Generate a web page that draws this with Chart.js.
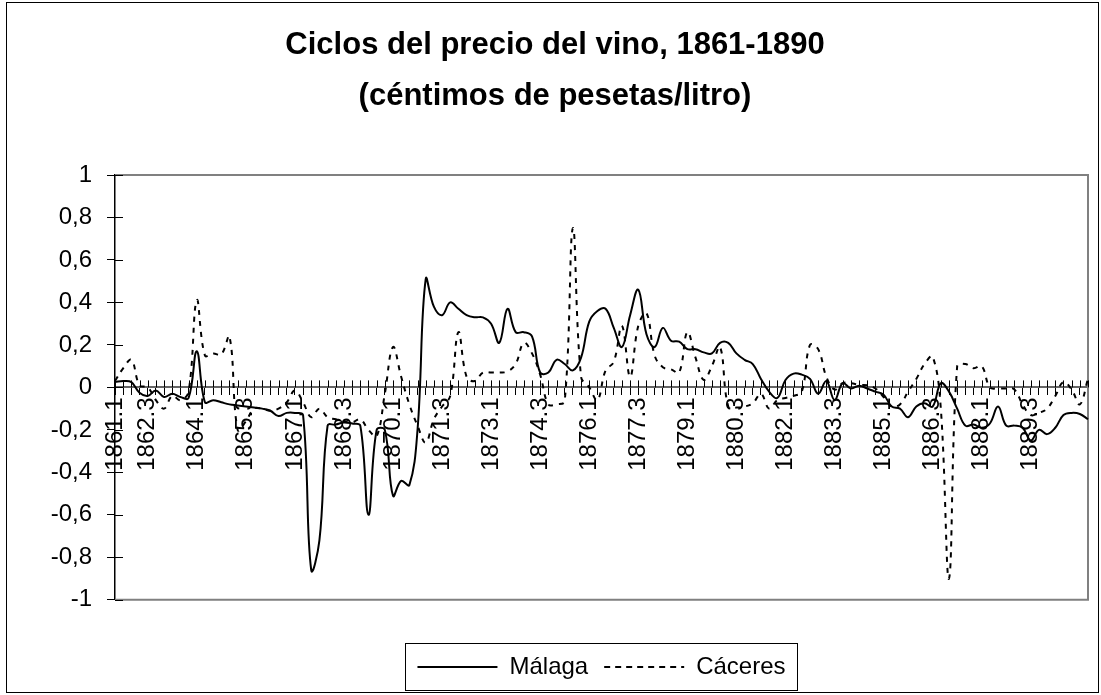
<!DOCTYPE html>
<html>
<head>
<meta charset="utf-8">
<script src="https://cdn.jsdelivr.net/npm/chart.js@4.4.0/dist/chart.umd.min.js"></script>
<style>
html, body { margin: 0; padding: 0; background: #fff; }
</style>
</head>
<body>
<canvas id="myChart" width="1101" height="695"></canvas>
<script>
// quarterly categories (year.quarter); first obs 1861.1, then a run from 1861.4 on
var categories = ["1861.1"];
for (var q = 1861 * 4 + 3; categories.length < 120; q++) {
    categories.push(Math.floor(q / 4) + "." + (q % 4 + 1));
}

var malaga = [
    0.025, 0.03, 0.025, -0.025, -0.04, -0.015, -0.045, -0.03, -0.045, -0.05,
    0.17, -0.07, -0.06, -0.07, -0.08, -0.085, -0.09, -0.095, -0.1, -0.11,
    -0.135, -0.12, -0.12, -0.13, -0.86, -0.72, -0.18, -0.175, -0.165, -0.17,
    -0.18, -0.6, -0.2, -0.2, -0.51, -0.44, -0.46, -0.2, 0.51, 0.38,
    0.34, 0.40, 0.37, 0.34, 0.33, 0.33, 0.30, 0.21, 0.37, 0.26,
    0.26, 0.24, 0.07, 0.07, 0.13, 0.11, 0.08, 0.14, 0.31, 0.36,
    0.37, 0.28, 0.19, 0.34, 0.46, 0.25, 0.19, 0.28, 0.22, 0.215,
    0.18, 0.18, 0.165, 0.16, 0.21, 0.21, 0.16, 0.13, 0.11, 0.04,
    -0.02, -0.05, 0.035, 0.065, 0.06, 0.04, -0.03, 0.03, -0.06, 0.02,
    -0.005, 0.008, -0.005, -0.02, -0.035, -0.09, -0.1, -0.14, -0.09, -0.075,
    -0.09, 0.02, -0.02, -0.1, -0.18, -0.175, -0.19, -0.17, -0.09, -0.18,
    -0.18, -0.19, -0.25, -0.2, -0.22, -0.19, -0.13, -0.12, -0.125, -0.15
];

var caceres = [
    0.03, 0.09, 0.13, 0.01, 0.0, -0.06, -0.1, -0.04, -0.06, -0.02,
    0.41, 0.15, 0.16, 0.155, 0.24, -0.2, -0.16, -0.1, -0.1, -0.11,
    -0.1, -0.07, -0.015, -0.07, -0.14, -0.1, -0.14, -0.15, -0.16, -0.165,
    -0.15, -0.2, -0.23, -0.03, 0.19, 0.05, -0.08, -0.18, -0.26, -0.15,
    -0.09, -0.04, 0.26, 0.05, 0.03, 0.07, 0.07, 0.07, 0.075, 0.11,
    0.21, 0.16, 0.06, -0.08, -0.08, -0.065, 0.75, 0.05, 0.0, -0.06,
    0.08, 0.12, 0.29, 0.05, 0.29, 0.35, 0.15, 0.095, 0.085, 0.07,
    0.26, 0.14, 0.035, 0.1, 0.19, -0.09, -0.095, -0.09, -0.075, -0.03,
    -0.1, -0.06, -0.05, -0.04, -0.02, 0.2, 0.18, 0.05, -0.01, 0.02,
    0.02, 0.012, 0.01, -0.005, -0.045, -0.09, -0.08, -0.02, 0.04, 0.11,
    0.145, -0.1, -0.9, 0.1, 0.11, 0.09, 0.1, 0.0, -0.005, -0.005,
    -0.01, -0.08, -0.13, -0.12, -0.1, -0.04, 0.025, -0.01, -0.08, 0.04
];

var titleLines = ["Ciclos del precio del vino, 1861-1890", "(céntimos de pesetas/litro)"];
var fontFam = "'Liberation Sans', Arial, sans-serif";

// cross tick marks, plot border, legend box and outer frame like the Excel original
var excelLook = {
    id: "excelLook",
    beforeDatasetsDraw: function (chart) {
        var ctx = chart.ctx;
        var a = chart.chartArea;
        var xs = chart.scales.x;
        var ys = chart.scales.y;
        var y0 = ys.getPixelForValue(0);
        ctx.save();
        ctx.strokeStyle = "#808080";
        ctx.lineWidth = 2;
        ctx.beginPath();
        ctx.moveTo(a.left, a.top);
        ctx.lineTo(a.right, a.top);
        ctx.lineTo(a.right, a.bottom);
        ctx.lineTo(a.left, a.bottom);
        ctx.stroke();

        ctx.strokeStyle = "#000";
        ctx.lineWidth = 1;
        ctx.beginPath();
        xs.ticks.forEach(function (t, i) {
            var px = Math.round(xs.getPixelForTick(i)) + 0.5;
            ctx.moveTo(px, y0 - 7);
            ctx.lineTo(px, y0);
        });
        ys.ticks.forEach(function (t, i) {
            var py = Math.round(ys.getPixelForTick(i)) + 0.5;
            ctx.moveTo(a.left, py);
            ctx.lineTo(a.left + 8, py);
        });
        ctx.stroke();
        ctx.restore();
    },
    afterDraw: function (chart) {
        var ctx = chart.ctx;
        var hb = chart.legend.legendHitBoxes;
        ctx.save();
        ctx.strokeStyle = "#000";
        ctx.lineWidth = 1;
        if (hb && hb.length) {
            var l = hb[0].left, r = hb[0].left + hb[0].width;
            hb.forEach(function (h) {
                l = Math.min(l, h.left);
                r = Math.max(r, h.left + h.width);
            });
            var t = hb[0].top - 12, b = hb[0].top + hb[0].height + 11;
            ctx.strokeRect(Math.round(l - 12) + 0.5, Math.round(t) + 0.5, Math.round(r - l + 24), Math.round(b - t));
        }
        ctx.strokeRect(6.5, 2.5, 1092, 690);
        ctx.restore();
    }
};

var ctx = document.getElementById("myChart").getContext("2d");
var config = {
    type: "line",
    data: {
        labels: categories,
        datasets: [{
            label: "Málaga",
            data: malaga,
            borderColor: "#000",
            borderWidth: 2,
            pointRadius: 0,
            tension: 0.4,
            fill: false
        }, {
            label: "Cáceres",
            data: caceres,
            borderColor: "#000",
            borderWidth: 2,
            borderDash: [5, 6],
            pointRadius: 0,
            tension: 0.4,
            fill: false
        }]
    },
    options: {
        responsive: false,
        animation: false,
        layout: { autoPadding: false, padding: { left: 22, right: 13, top: 0, bottom: 6 } },
        plugins: {
            title: {
                display: true,
                text: titleLines,
                color: "#000",
                font: { family: fontFam, size: 31, weight: "bold", lineHeight: 1.65 },
                padding: { top: 19.5, bottom: 53.2 }
            },
            legend: {
                position: "bottom",
                fullSize: false,
                labels: {
                    color: "#000",
                    font: { family: fontFam, size: 24 },
                    boxWidth: 80,
                    boxHeight: 0,
                    padding: 16
                },
                title: { display: true, text: " ", font: { size: 1 }, padding: { top: 38, bottom: 0 } }
            },
            tooltip: { enabled: false }
        },
        scales: {
            x: {
                type: "category",
                position: { y: 0 },
                offset: false,
                grid: { display: true, drawOnChartArea: false, drawTicks: true, tickLength: 7, color: "#000", lineWidth: 1 },
                border: { display: true, color: "#666", width: 2 },
                ticks: {
                    autoSkip: false,
                    maxRotation: 90,
                    minRotation: 90,
                    padding: 3,
                    color: "#000",
                    font: { family: fontFam, size: 24 },
                    callback: function (v, i) {
                        if (i === 0 || (i % 6 === 4 && i <= 112)) return categories[i];
                        return "";
                    }
                },
                afterFit: function (scale) {
                    scale.paddingLeft = 0;
                    scale.paddingRight = 0;
                }
            },
            y: {
                min: -1,
                max: 1,
                grid: { drawOnChartArea: false, drawTicks: true, tickLength: 8, color: "#000", lineWidth: 1 },
                border: { display: true, color: "#000", width: 1.5 },
                ticks: {
                    stepSize: 0.2,
                    padding: 15,
                    color: "#000",
                    font: { family: fontFam, size: 24 },
                    callback: function (v) {
                        return String(Math.round(v * 10) / 10).replace(".", ",");
                    }
                },
                afterFit: function (scale) { scale.width = 93; }
            }
        }
    },
    plugins: [excelLook]
};

var myChart = new Chart(ctx, config);
</script>
</body>
</html>
